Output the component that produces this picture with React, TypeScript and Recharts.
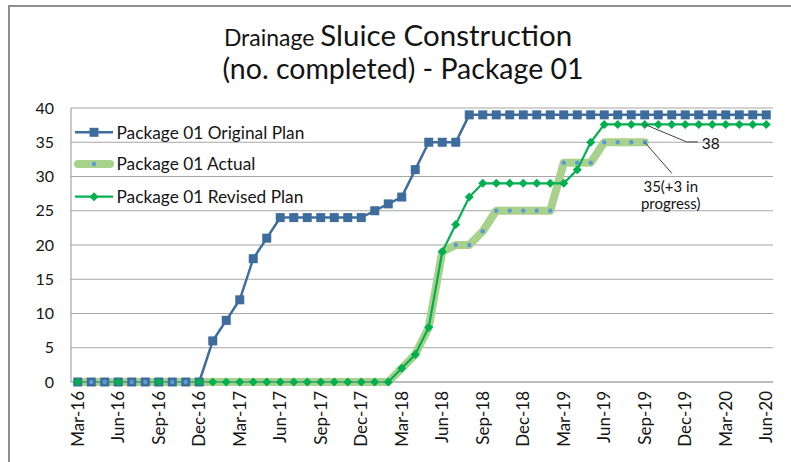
import React from 'react';
import { LineChart, Line, XAxis, YAxis, CartesianGrid, LabelList } from 'recharts';

const months = [
  'Mar-16', 'Apr-16', 'May-16', 'Jun-16', 'Jul-16', 'Aug-16', 'Sep-16', 'Oct-16', 'Nov-16', 'Dec-16',
  'Jan-17', 'Feb-17', 'Mar-17', 'Apr-17', 'May-17', 'Jun-17', 'Jul-17', 'Aug-17', 'Sep-17', 'Oct-17', 'Nov-17', 'Dec-17',
  'Jan-18', 'Feb-18', 'Mar-18', 'Apr-18', 'May-18', 'Jun-18', 'Jul-18', 'Aug-18', 'Sep-18', 'Oct-18', 'Nov-18', 'Dec-18',
  'Jan-19', 'Feb-19', 'Mar-19', 'Apr-19', 'May-19', 'Jun-19', 'Jul-19', 'Aug-19', 'Sep-19', 'Oct-19', 'Nov-19', 'Dec-19',
  'Jan-20', 'Feb-20', 'Mar-20', 'Apr-20', 'May-20', 'Jun-20',
];

const originalPlan = [
  0, 0, 0, 0, 0, 0, 0, 0, 0, 0,
  6, 9, 12, 18, 21, 24, 24, 24, 24, 24, 24, 24,
  25, 26, 27, 31, 35, 35, 35, 39, 39, 39, 39, 39,
  39, 39, 39, 39, 39, 39, 39, 39, 39, 39, 39, 39,
  39, 39, 39, 39, 39, 39,
];

const actual = [
  0, 0, 0, 0, 0, 0, 0, 0, 0, 0,
  0, 0, 0, 0, 0, 0, 0, 0, 0, 0, 0, 0,
  0, 0, 2, 4, 8, 19, 20, 20, 22, 25, 25, 25,
  25, 25, 32, 32, 32, 35, 35, 35, 35, null, null, null,
  null, null, null, null, null, null,
];

const revisedPlan = [
  0, null, null, 0, null, null, 0, null, null, 0,
  0, 0, 0, 0, 0, 0, 0, 0, 0, 0, 0, 0,
  0, 0, 2, 4, 8, 19, 23, 27, 29, 29, 29, 29,
  29, 29, 29, 31, 35, 37.6, 37.6, 37.6, 37.6, 37.6, 37.6, 37.6,
  37.6, 37.6, 37.6, 37.6, 37.6, 37.6,
];

const yTicks = [0, 5, 10, 15, 20, 25, 30, 35, 40];
const seriesNames = ['Package 01 Original Plan', 'Package 01 Actual', 'Package 01 Revised Plan'];
const titleSmall = 'Drainage';
const titleLarge = 'Sluice Construction';
const titleLine2 = '(no. completed) - Package 01';
const noteMonth = 'Sep-19';
const revisedNote = '38';
const actualNote = ['35(+3 in', 'progress)'];

const data = months.map((m, i) => ({
  m,
  orig: originalPlan[i],
  actual: actual[i],
  rev: revisedPlan[i],
}));

const FONT = 'Lato, "Open Sans", sans-serif';
const BLUE = '#3E6C9D';
const BAND = '#A8D18C';
const DOT = '#5B9BD5';
const GREEN = '#00B050';
const GRID = '#A6A6A6';
const TXT = '#141414';

const noteIndex = months.indexOf(noteMonth);

const SquareDot = (p: any) => {
  if (p.value == null || p.cy == null || p.cx == null) return <g key={`sq-${p.index}`} />;
  return <rect key={`sq-${p.index}`} x={p.cx - 4.5} y={p.cy - 4.5} width={9} height={9} fill={BLUE} />;
};

const DiamondDot = (p: any) => {
  if (p.value == null || p.cy == null || p.cx == null) return <g key={`dm-${p.index}`} />;
  const { cx, cy } = p;
  const r = 4.5;
  return (
    <polygon
      key={`dm-${p.index}`}
      points={`${cx},${cy - r} ${cx + r},${cy} ${cx},${cy + r} ${cx - r},${cy}`}
      fill={GREEN}
    />
  );
};

const RoundDot = (p: any) => {
  if (p.value == null || p.cy == null || p.cx == null) return <g key={`rd-${p.index}`} />;
  return <circle key={`rd-${p.index}`} cx={p.cx} cy={p.cy} r={2.2} fill={DOT} />;
};

const XTick = (p: any) => {
  const { x, y, payload } = p;
  const ty = y + 1;
  return (
    <text
      x={x}
      y={ty}
      transform={`rotate(-90, ${x}, ${ty})`}
      textAnchor="end"
      dy="0.36em"
      fontSize={17}
      fontFamily={FONT}
      fill={TXT}
    >
      {payload.value}
    </text>
  );
};

const RevNote = (p: any) => {
  const { x, y, index } = p;
  if (index !== noteIndex || x == null || y == null) return null;
  return (
    <g>
      <polyline
        points={`${x},${y} ${x + 42},${y + 17.5} ${x + 53},${y + 17.5}`}
        fill="none"
        stroke="#404040"
        strokeWidth={1}
      />
      <text x={x + 57} y={y + 25} fontSize={15.5} fontFamily={FONT} fill={TXT}>
        {revisedNote}
      </text>
    </g>
  );
};

const ActNote = (p: any) => {
  const { x, y, index } = p;
  if (index !== noteIndex || x == null || y == null) return null;
  return (
    <g>
      <line x1={x} y1={y} x2={x + 27} y2={y + 31} stroke="#404040" strokeWidth={1} />
      <text x={x + 26} y={y + 50} textAnchor="middle" fontSize={15} fontFamily={FONT} fill={TXT}>
        {actualNote[0]}
      </text>
      <text x={x + 26} y={y + 67} textAnchor="middle" fontSize={15} fontFamily={FONT} fill={TXT}>
        {actualNote[1]}
      </text>
    </g>
  );
};

const LegendBox = () => {
  const ox = 70;
  const rows = [132.3, 164, 196.7];
  const tx = ox + 46.5;
  return (
    <svg
      width={791}
      height={462}
      style={{ position: 'absolute', left: 0, top: 0, pointerEvents: 'none' }}
    >
      <line x1={ox + 5} y1={rows[0]} x2={ox + 43} y2={rows[0]} stroke={BLUE} strokeWidth={2.5} />
      <rect x={ox + 19.5} y={rows[0] - 4.5} width={9} height={9} fill={BLUE} />
      <text x={tx} y={rows[0]} dy="0.36em" fontSize={17.3} fontFamily={FONT} fill={TXT}>
        {seriesNames[0]}
      </text>
      <line x1={ox + 8} y1={rows[1]} x2={ox + 40} y2={rows[1]} stroke={BAND} strokeWidth={8} strokeLinecap="round" />
      <circle cx={ox + 24} cy={rows[1]} r={2.2} fill={DOT} />
      <text x={tx} y={rows[1]} dy="0.36em" fontSize={17.3} fontFamily={FONT} fill={TXT}>
        {seriesNames[1]}
      </text>
      <line x1={ox + 5} y1={rows[2]} x2={ox + 43} y2={rows[2]} stroke={GREEN} strokeWidth={2.2} />
      <polygon
        points={`${ox + 24},${rows[2] - 4.5} ${ox + 28.5},${rows[2]} ${ox + 24},${rows[2] + 4.5} ${ox + 19.5},${rows[2]}`}
        fill={GREEN}
      />
      <text x={tx} y={rows[2]} dy="0.36em" fontSize={17.3} fontFamily={FONT} fill={TXT}>
        {seriesNames[2]}
      </text>
    </svg>
  );
};

export default function App() {
  return (
    <div
      style={{
        position: 'absolute',
        left: 0,
        top: 0,
        width: 791,
        height: 462,
        overflow: 'hidden',
        background: '#ffffff',
      }}
    >
      <div
        style={{
          position: 'absolute',
          left: 8,
          top: 5,
          width: 820,
          height: 520,
          border: '2px solid #8f8f8f',
          boxSizing: 'border-box',
        }}
      />
      <svg
        width={791}
        height={100}
        style={{ position: 'absolute', left: 0, top: 0, pointerEvents: 'none' }}
      >
        <text x={398} y={46} textAnchor="middle" fontFamily={FONT} fill={TXT}>
          <tspan fontSize={23}>{titleSmall} </tspan>
          <tspan fontSize={29.5}>{titleLarge}</tspan>
        </text>
        <text x={403} y={79} textAnchor="middle" fontFamily={FONT} fontSize={28.5} fill={TXT}>
          {titleLine2}
        </text>
      </svg>
      <div style={{ position: 'absolute', left: 0, top: 0 }}>
        <LineChart
          width={791}
          height={462}
          data={data}
          margin={{ top: 108, right: 18, bottom: 20, left: 21 }}
        >
          <CartesianGrid horizontal={true} vertical={false} stroke={GRID} strokeWidth={1.2} />
          <XAxis
            dataKey="m"
            interval={2}
            padding={{ left: 6.75, right: 6.75 }}
            height={60}
            tickLine={false}
            axisLine={{ stroke: GRID, strokeWidth: 1.2 }}
            tick={<XTick />}
          />
          <YAxis
            domain={[0, 40]}
            ticks={yTicks}
            interval={0}
            width={50}
            tickLine={false}
            tickSize={6}
            tickMargin={11}
            axisLine={{ stroke: GRID, strokeWidth: 1.2 }}
            tick={{ fontSize: 16, fontFamily: FONT, fill: TXT }}
          />
          <Line
            type="linear"
            dataKey="orig"
            name={seriesNames[0]}
            stroke={BLUE}
            strokeWidth={2.5}
            dot={SquareDot}
            activeDot={false}
            isAnimationActive={false}
          />
          <Line
            type="linear"
            dataKey="actual"
            name={seriesNames[1]}
            stroke={BAND}
            strokeWidth={8}
            strokeLinecap="round"
            strokeLinejoin="round"
            dot={RoundDot}
            activeDot={false}
            isAnimationActive={false}
          >
            <LabelList dataKey="actual" content={ActNote} />
          </Line>
          <Line
            type="linear"
            dataKey="rev"
            name={seriesNames[2]}
            stroke={GREEN}
            strokeWidth={2.2}
            connectNulls={true}
            dot={DiamondDot}
            activeDot={false}
            isAnimationActive={false}
          >
            <LabelList dataKey="rev" content={RevNote} />
          </Line>
        </LineChart>
      </div>
      <LegendBox />
    </div>
  );
}
